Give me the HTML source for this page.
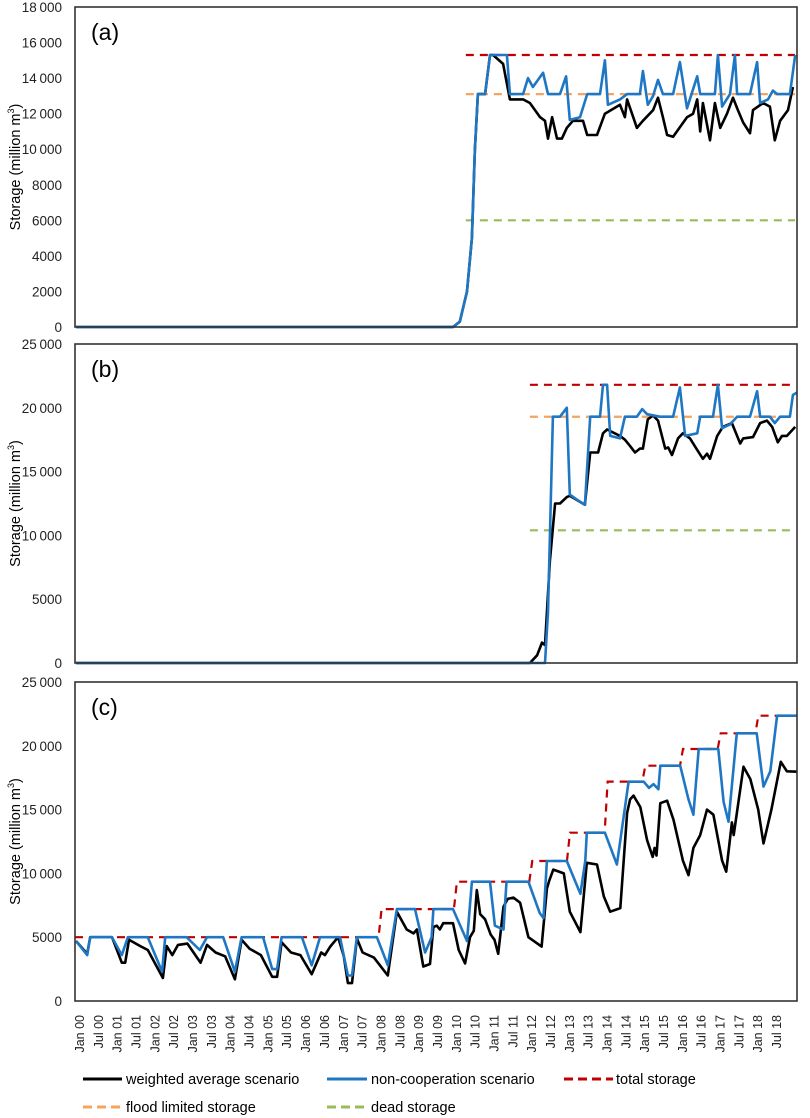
<!DOCTYPE html>
<html><head><meta charset="utf-8"><style>
html,body{margin:0;padding:0;background:#fff;}
svg{display:block;font-family:"Liberation Sans",Arial,sans-serif;}
</style></head><body>
<svg id="chart" width="810" height="1118" viewBox="0 0 810 1118" xmlns="http://www.w3.org/2000/svg">
<g id="layer"></g>
<g font-size="14.5" fill="#000">
 <line x1="83" y1="1079" x2="122" y2="1079" stroke="#000" stroke-width="3"/>
 <text x="126" y="1084">weighted average scenario</text>
 <line x1="327" y1="1079" x2="367" y2="1079" stroke="#1f77c4" stroke-width="3"/>
 <text x="371" y="1084">non-cooperation scenario</text>
 <line x1="564" y1="1079" x2="613" y2="1079" stroke="#c00000" stroke-width="3" stroke-dasharray="9,5"/>
 <text x="616" y="1084">total storage</text>
 <line x1="83" y1="1107" x2="122" y2="1107" stroke="#f4a460" stroke-width="3" stroke-dasharray="9,5"/>
 <text x="126" y="1112">flood limited storage</text>
 <line x1="327" y1="1107" x2="367" y2="1107" stroke="#9bbb59" stroke-width="3" stroke-dasharray="9,5"/>
 <text x="371" y="1112">dead storage</text>
</g>
</svg>
<script>
// ---- data (t = years since Jan 2000, values in million m3) ----
const xLabels = ["Jan 00","Jul 00","Jan 01","Jul 01","Jan 02","Jul 02","Jan 03","Jul 03","Jan 04","Jul 04","Jan 05","Jul 05","Jan 06","Jul 06","Jan 07","Jul 07","Jan 08","Jul 08","Jan 09","Jul 09","Jan 10","Jul 10","Jan 11","Jul 11","Jan 12","Jul 12","Jan 13","Jul 13","Jan 14","Jul 14","Jan 15","Jul 15","Jan 16","Jul 16","Jan 17","Jul 17","Jan 18","Jul 18"];
const aTicks = [0,2000,4000,6000,8000,10000,12000,14000,16000,18000];
const bcTicks = [0,5000,10000,15000,20000,25000];
const aBlueT = [0,9.9,10.08,10.27,10.40,10.48,10.56,10.75,10.88,11.33,11.41,11.76,11.89,12.02,12.29,12.42,12.74,12.90,13.00,13.27,13.46,13.80,13.93,14.01,14.33,14.52,14.86,14.94,15.07,15.21,15.34,15.47,15.74,15.92,16.11,16.38,16.46,16.85,16.93,17.04,17.25,17.38,17.44,17.78,17.97,18.05,18.26,18.39,18.50,18.84,18.98];
const aBlueV = [0,0,300,2000,5000,10000,13100,13100,15300,15300,13100,13100,14000,13500,14300,13100,13100,14100,11650,11800,13100,13100,15000,12500,12800,13100,13100,14400,12500,13000,13900,13100,13100,14900,12300,14100,13100,13100,15300,12400,13100,15300,13100,13100,14900,12600,12800,13300,13100,13100,15300];
const aBlackT = [0,9.9,10.08,10.27,10.40,10.48,10.56,10.75,10.88,10.96,11.23,11.41,11.76,11.94,12.21,12.34,12.42,12.53,12.66,12.79,12.92,13.08,13.35,13.46,13.72,13.93,14.33,14.46,14.52,14.78,14.94,15.21,15.34,15.47,15.58,15.74,16.11,16.27,16.38,16.46,16.53,16.72,16.85,16.99,17.17,17.33,17.46,17.60,17.78,17.86,18.13,18.31,18.44,18.58,18.79,18.92];
const aBlackV = [0,0,300,2000,5000,10000,13100,13100,15300,15300,14800,12800,12800,12600,11800,11600,10600,11800,10600,10600,11200,11600,11600,10800,10800,12000,12500,11800,12800,11200,11600,12200,12900,11800,10800,10700,11800,12000,12800,11000,12600,10500,12600,11200,12000,12900,12200,11500,10900,12200,12600,12400,10500,11600,12200,13500];
const aLevels = [15300,13100,6000]; const aLevelStart = 10.24;
const bBlackT = [0,11.94,12.13,12.26,12.34,12.47,12.61,12.74,12.92,13.00,13.40,13.54,13.75,13.88,13.99,14.33,14.46,14.60,14.73,14.86,14.94,15.07,15.21,15.34,15.53,15.61,15.71,15.87,16.00,16.19,16.38,16.53,16.64,16.72,16.91,17.06,17.30,17.52,17.60,17.86,18.05,18.23,18.37,18.52,18.63,18.76,18.98];
const bBlackV = [0,0,600,1600,1400,8000,12500,12500,13000,13100,12400,16500,16500,18000,18300,17800,17500,17000,16500,16800,16800,19100,19400,19000,16800,16900,16300,17600,18000,17600,16700,16000,16400,16000,17800,18500,18800,17200,17600,17700,18800,19000,18500,17300,17800,17800,18500];
const bBlueT = [0,12.34,12.42,12.55,12.74,12.92,13.00,13.19,13.40,13.54,13.80,13.88,13.99,14.07,14.33,14.46,14.78,14.92,15.05,15.39,15.74,15.92,16.06,16.38,16.46,16.80,16.93,17.04,17.25,17.44,17.78,17.97,18.05,18.31,18.44,18.58,18.84,18.92,19.03];
const bBlueV = [0,0,4000,19300,19300,20000,13200,12800,12400,19300,19300,21800,21800,17800,17600,19300,19300,19900,19500,19300,19300,21600,17800,18000,19300,19300,21800,18400,18700,19300,19300,21300,19300,19300,18800,19300,19300,21000,21200];
const bLevels = [21800,19300,10400]; const bLevelStart = 11.94;
const cBlueT = [0,0.19,0.27,0.85,1.11,1.27,1.80,2.18,2.26,2.83,3.18,3.37,3.80,4.11,4.29,4.86,5.10,5.23,5.35,5.89,6.15,6.37,6.90,7.11,7.22,7.35,7.88,8.17,8.41,8.89,9.16,9.33,9.38,9.90,10.27,10.40,10.88,11.01,11.24,11.32,11.90,12.20,12.30,12.39,12.92,13.28,13.41,13.45,13.93,14.25,14.56,14.96,15.10,15.22,15.35,15.40,15.93,16.15,16.28,16.42,16.94,17.08,17.21,17.43,17.96,18.14,18.32,18.50,19.03];
const cBlueV = [4700,3600,5000,5000,3600,5000,5000,2300,5000,5000,4000,5000,5000,2300,5000,5000,2500,2500,5000,5000,2800,5000,5000,2000,2000,5000,5000,2800,7200,7200,3800,5000,7200,7200,4700,9350,9350,5900,5600,9350,9350,6900,6500,10970,10970,8400,11000,13190,13190,10700,17190,17190,16700,17000,16600,18440,18440,15800,14600,19750,19750,15600,14050,20980,20980,16800,18000,22360,22360];
const cBlackT = [0,0.19,0.27,0.85,1.11,1.20,1.30,1.60,1.80,2.20,2.30,2.45,2.60,2.85,3.20,3.37,3.60,3.85,4.11,4.29,4.50,4.80,5.10,5.23,5.35,5.60,5.85,6.15,6.40,6.50,6.65,6.85,7.00,7.11,7.22,7.35,7.50,7.80,8.17,8.41,8.67,8.85,8.94,9.11,9.29,9.38,9.47,9.55,9.64,9.90,10.05,10.22,10.35,10.45,10.53,10.62,10.75,10.90,11.00,11.10,11.24,11.35,11.50,11.68,11.90,12.25,12.39,12.45,12.56,12.84,13.00,13.28,13.45,13.72,13.90,14.07,14.34,14.52,14.60,14.69,14.87,15.05,15.20,15.25,15.30,15.40,15.58,15.75,16.00,16.15,16.28,16.46,16.64,16.81,17.04,17.15,17.30,17.35,17.61,17.79,18.00,18.14,18.35,18.60,18.76,19.03];
const cBlackV = [4700,3700,5000,5000,3000,3000,4800,4300,4000,1800,4300,3600,4400,4500,3000,4400,3800,3500,1700,4800,4100,3600,1900,1900,4600,3800,3600,2100,3800,3600,4300,5000,3500,1400,1400,4900,3800,3400,2000,7000,5600,5300,5600,2700,2900,5800,5900,5600,6100,6100,4000,2950,5000,5500,8700,6800,6400,5200,4800,3700,7390,8000,8100,7700,5000,4260,8800,9400,10300,10000,7000,5400,10830,10700,8200,7000,7280,14730,15800,16100,15200,12600,11290,12000,11400,15500,15700,14200,11000,9870,12000,13000,15000,14600,11000,10130,14000,13000,18360,17400,15000,12350,15000,18750,18000,17970];
const cStepT = [0,7.95,9.95,11.95,12.95,13.95,14.95,15.95,16.95,17.95];
const cStepV = [5000,7200,9350,10970,13190,17190,18440,19750,20980,22360];
const tEnd = 19.03;

// ---- drawing ----
const NS = "http://www.w3.org/2000/svg";
const layer = document.getElementById('layer');
const X0 = 75, X1 = 797;
const xS = t => 80 + t * 37.68;
function mk(tag, attrs, parent) {
  const e = document.createElementNS(NS, tag);
  for (const k in attrs) e.setAttribute(k, attrs[k]);
  (parent || layer).appendChild(e);
  return e;
}
function fmt(v) { return v >= 10000 ? String(Math.floor(v/1000)) + "\u2009" + String(v%1000).padStart(3,"0") : String(v); }
const panels = [
  {id:'a', top:7, bot:327, max:18000, ticks:aTicks, series:[[aBlackT,aBlackV,'#000'],[aBlueT,aBlueV,'#1f77c4']], levels:aLevels, ls:aLevelStart},
  {id:'b', top:344, bot:663, max:25000, ticks:bcTicks, series:[[bBlackT,bBlackV,'#000'],[bBlueT,bBlueV,'#1f77c4']], levels:bLevels, ls:bLevelStart},
  {id:'c', top:682, bot:1001, max:25000, ticks:bcTicks, series:[[cBlackT,cBlackV,'#000'],[cBlueT,cBlueV,'#1f77c4']], levels:null}
];
const levelColors = ['#c00000','#f4a460','#9bbb59'];
const levelNames = ['total-storage-line','flood-limited-line','dead-storage-line'];
panels.forEach(p => {
  const yS = v => p.bot - v / p.max * (p.bot - p.top);
  const g = mk('g', {});
  
  
  p.ticks.forEach(v => {
    const t = mk('text', {x:62, y:yS(v)+5, 'text-anchor':'end', 'font-size':13.5, fill:'#222'}, g);
    t.textContent = fmt(v);
    
    
  });
  const cy = (p.top + p.bot) / 2;
  const yt = mk('text', {x:0, y:0, transform:`translate(20,${cy}) rotate(-90)`, 'text-anchor':'middle', 'font-size':14.5, fill:'#000'}, g);
  yt.innerHTML = 'Storage (million m<tspan dy="-6" font-size="9">3</tspan><tspan dy="6">)</tspan>';
  
  
  const lab = mk('text', {x:91, y:p.top+33, 'font-size':23, fill:'#000'}, g);
  lab.textContent = '(' + p.id + ')';
  
  
  if (p.levels) {
    p.levels.forEach((v, i) => {
      const l = mk('line', {x1:xS(p.ls), x2:X1-2, y1:yS(v), y2:yS(v), stroke:levelColors[i], 'stroke-width':2.2, 'stroke-dasharray':'8,6'}, g);
      
      
    });
  } else {
    let d = '';
    cStepT.forEach((t, i) => {
      if (i === 0) d += `M${X0},${yS(cStepV[0])}`;
      else d += ` L${xS(t)-1},${yS(cStepV[i-1])} L${xS(t)+2},${yS(cStepV[i])}`;
    });
    d += ` L${xS(tEnd)},${yS(cStepV[cStepV.length-1])}`;
    const st = mk('path', {d, fill:'none', stroke:'#c00000', 'stroke-width':2.2, 'stroke-dasharray':'8,6'}, g);
    
    
  }
  p.series.forEach(([T, V, col], si) => {
    const n = Math.min(T.length, V.length);
    let d = '';
    for (let i = 0; i < n; i++) {
      const x = Math.max(X0, Math.min(X1, xS(T[i])));
      d += (i ? ' L' : 'M') + x.toFixed(1) + ',' + yS(V[i]).toFixed(1);
    }
    if (T[0] === 0) d = d.replace(/^M[\d.]+/, 'M' + (X0+1));
    const pth = mk('path', {d, fill:'none', stroke:col, 'stroke-width':2.6, 'stroke-linejoin':'round'}, g);
    
    
  });
  const fr = mk('rect', {x:X0, y:p.top, width:X1-X0, height:p.bot-p.top, fill:'none', stroke:'#333', 'stroke-width':1.6}, g);
  
  
});
xLabels.forEach((s, i) => {
  const x = xS(i * 0.5) + 4;
  const t = mk('text', {x:0, y:0, transform:`translate(${x},1015) rotate(-90)`, 'text-anchor':'end', 'font-size':12.5, fill:'#222'});
  t.textContent = s;
  
  
});
</script>
</body></html>
